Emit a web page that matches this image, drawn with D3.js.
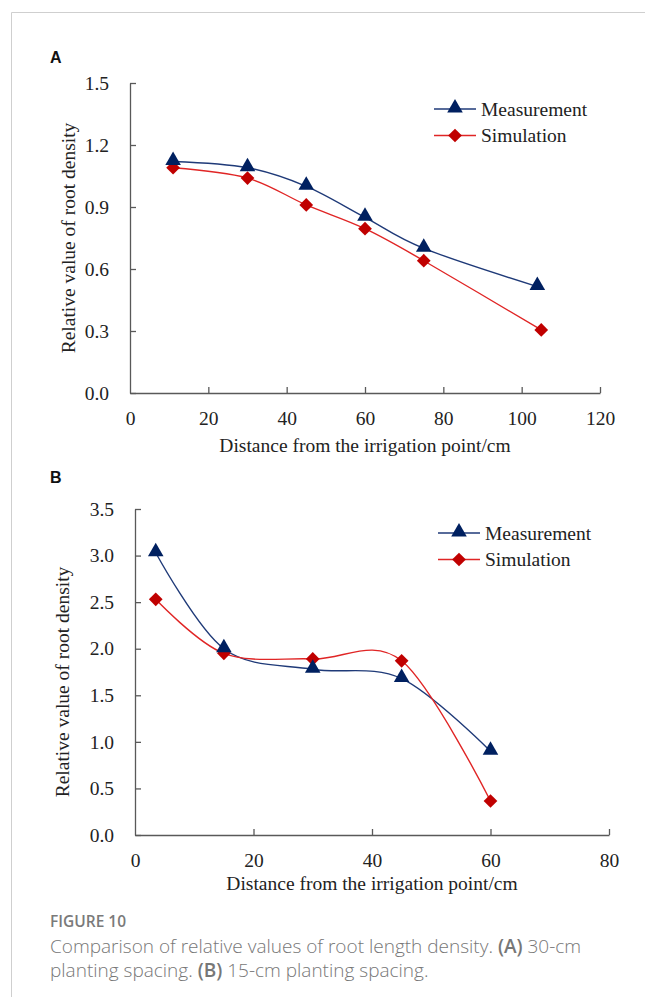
<!DOCTYPE html>
<html>
<head>
<meta charset="utf-8">
<script src="https://cdn.jsdelivr.net/npm/d3@7"></script>
<style>
  body { margin: 0; background: #fff; }
</style>
</head>
<body>
<div id="main"></div>
<script>
// panel A: 30-cm planting spacing
const distA = [11, 30, 45, 60, 75, 104]
const distSimA = [11, 30, 45, 60, 75, 105]
const measA = [1.12, 1.09, 1.00, 0.85, 0.70, 0.515]
const simA = [1.09, 1.04, 0.91, 0.795, 0.64, 0.305]
const xTicksA = [0, 20, 40, 60, 80, 100, 120]
const yTicksA = [0, 0.3, 0.6, 0.9, 1.2, 1.5]

// panel B: 15-cm planting spacing
const distB = [3.5, 15, 30, 45, 60]
const measB = [3.03, 2.00, 1.78, 1.68, 0.90]
const simB = [2.53, 1.95, 1.89, 1.87, 0.365]
const xTicksB = [0, 20, 40, 60, 80]
const yTicksB = [0, 0.5, 1.0, 1.5, 2.0, 2.5, 3.0, 3.5]

const seriesNames = ["Measurement", "Simulation"]
const captionTitle = "FIGURE 10"

const serif = "'Liberation Serif', 'Times New Roman', serif"
const sans = "'Open Sans', sans-serif"

let svg = d3.select("#main").append("svg")
  .attr("width", 645)
  .attr("height", 997)

// page frame
svg.append("path")
  .attr("d", "M11.5,997 V12.5 H645")
  .attr("fill", "none")
  .attr("stroke", "#cfcfcf")
  .attr("stroke-width", 1)

const blue = "#002060", blueLine = "#1f3a78"
const red = "#c00000", redLine = "#e02525"

function drawPanel (cfg) {
  let g = svg.append("g").style("font-family", serif)
  const x = d3.scaleLinear().domain(cfg.xDomain).range([cfg.left, cfg.right])
  const y = d3.scaleLinear().domain(cfg.yDomain).range([cfg.bottom, cfg.top])

  let xAxis = d3.axisBottom(x).tickValues(cfg.xTicks).tickSizeInner(-6).tickSizeOuter(0).tickPadding(18)
  let yAxis = d3.axisLeft(y).tickValues(cfg.yTicks).tickSizeInner(-6).tickSizeOuter(0).tickPadding(21)
    .tickFormat(d3.format(".1f"))

  let gx = g.append("g").attr("transform", `translate(0,${cfg.bottom})`).call(xAxis)
  let gy = g.append("g").attr("transform", `translate(${cfg.left},0)`).call(yAxis)
  for (let a of [gx, gy]) {
    a.attr("font-family", null).attr("font-size", null)
    a.selectAll("path, line").attr("stroke", "#595959").attr("stroke-width", 1.3)
    a.selectAll("text").style("font-family", serif).style("font-size", "19.5px").attr("fill", "#222")
  }
  gx.selectAll(".tick").filter(d => d === 0).select("line").remove()

  g.append("text")
    .attr("x", (cfg.left + cfg.right) / 2)
    .attr("y", cfg.bottom + cfg.xTitleOff)
    .attr("text-anchor", "middle")
    .style("font-size", "19.5px")
    .attr("fill", "#222")
    .text("Distance from the irrigation point/cm")

  g.append("text")
    .attr("transform", `translate(${cfg.yTitleX},${(cfg.top + cfg.bottom) / 2 + cfg.yTitleShift}) rotate(-90)`)
    .attr("text-anchor", "middle")
    .attr("dy", "0.35em")
    .style("font-size", "19.5px")
    .attr("fill", "#222")
    .text("Relative value of root density")

  g.append("text")
    .attr("x", 50)
    .attr("y", cfg.labelY)
    .style("font-family", "'Liberation Sans', Arial, sans-serif")
    .style("font-weight", "bold")
    .style("font-size", "16px")
    .attr("fill", "#111")
    .text(cfg.label)

  const line = d3.line().curve(d3.curveCardinal.tension(0)).x(d => x(d[0])).y(d => y(d[1]))
  const meas = cfg.measX.map((d, i) => [d, cfg.meas[i]])
  const sim = cfg.simX.map((d, i) => [d, cfg.sim[i]])

  g.append("path").datum(meas).attr("d", line).attr("fill", "none").attr("stroke", blueLine).attr("stroke-width", 1.4)
  g.append("path").datum(sim).attr("d", line).attr("fill", "none").attr("stroke", redLine).attr("stroke-width", 1.4)

  const tri = d3.symbol().type(d3.symbolTriangle).size(105)
  const dia = d3.symbol().type(d3.symbolDiamond2).size(120)

  g.selectAll(".sim").data(sim).enter().append("path")
    .attr("class", "sim")
    .attr("d", dia)
    .attr("transform", d => `translate(${x(d[0])},${y(d[1])})`)
    .attr("fill", red)
  g.selectAll(".meas").data(meas).enter().append("path")
    .attr("class", "meas")
    .attr("d", tri)
    .attr("transform", d => `translate(${x(d[0])},${y(d[1]) - 1})`)
    .attr("fill", blue)

  // legend
  seriesNames.forEach((name, i) => {
    let ly = cfg.legendY + i * 26.5
    g.append("line")
      .attr("x1", cfg.legendX).attr("x2", cfg.legendX + 42)
      .attr("y1", ly).attr("y2", ly)
      .attr("stroke", i === 0 ? blueLine : redLine).attr("stroke-width", 1.4)
    g.append("path")
      .attr("d", i === 0 ? tri : dia)
      .attr("transform", `translate(${cfg.legendX + 21},${ly - (i === 0 ? 1 : 0)})`)
      .attr("fill", i === 0 ? blue : red)
    g.append("text")
      .attr("x", cfg.legendX + 47)
      .attr("y", ly)
      .attr("dy", "0.35em")
      .style("font-size", "19.5px")
      .attr("fill", "#222")
      .text(name)
  })
}

drawPanel({
  label: "A", labelY: 63,
  left: 130, right: 600, top: 83, bottom: 393,
  xDomain: [0, 120], yDomain: [0, 1.5],
  xTicks: xTicksA, yTicks: yTicksA,
  measX: distA, meas: measA, simX: distSimA, sim: simA,
  legendX: 434, legendY: 109, yTitleX: 68, yTitleShift: 0, xTitleOff: 59
})

drawPanel({
  label: "B", labelY: 483,
  left: 135, right: 609, top: 509, bottom: 835,
  xDomain: [0, 80], yDomain: [0, 3.5],
  xTicks: xTicksB, yTicks: yTicksB,
  measX: distB, meas: measB, simX: distB, sim: simB,
  legendX: 438, legendY: 533, yTitleX: 62, yTitleShift: 10, xTitleOff: 55
})

// caption
let cap = svg.append("g").style("font-family", sans)
cap.append("text").attr("x", 50).attr("y", 927)
  .style("font-size", "15.5px").style("font-weight", 600).attr("fill", "#7a7a7a")
  .text(captionTitle)
let l1 = cap.append("text").attr("x", 50).attr("y", 953).style("font-size", "19px").style("font-weight", 300).attr("fill", "#777")
l1.append("tspan").text("Comparison of relative values of root length density. ")
l1.append("tspan").style("font-weight", 600).text("(A)")
l1.append("tspan").text(" 30-cm")
let l2 = cap.append("text").attr("x", 50).attr("y", 977).style("font-size", "19px").style("font-weight", 300).attr("fill", "#777")
l2.append("tspan").text("planting spacing. ")
l2.append("tspan").style("font-weight", 600).text("(B)")
l2.append("tspan").text(" 15-cm planting spacing.")
</script>
</body>
</html>
